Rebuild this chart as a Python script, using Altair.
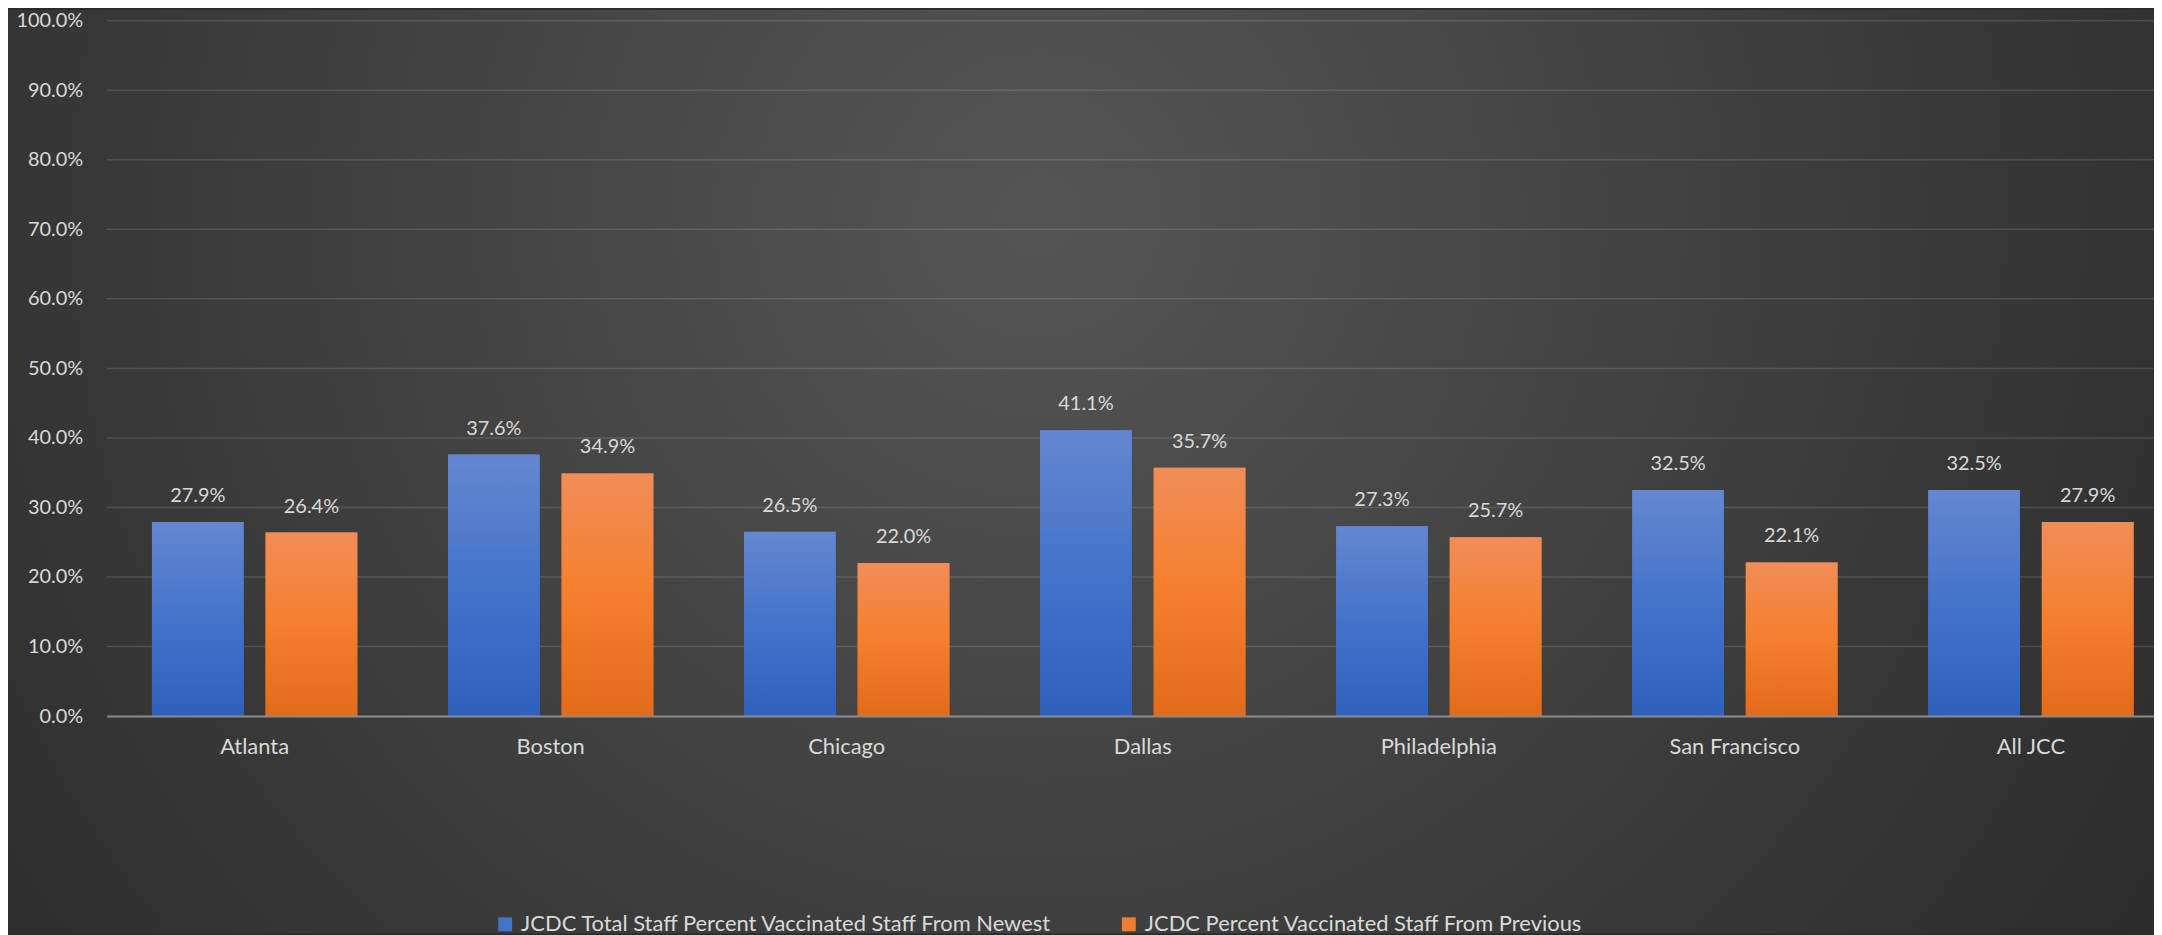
import altair as alt
import pandas as pd

cities = ["Atlanta", "Boston", "Chicago", "Dallas", "Philadelphia", "San Francisco", "All JCC"]
newest = [27.9, 37.6, 26.5, 41.1, 27.3, 32.5, 32.5]
previous = [26.4, 34.9, 22.0, 35.7, 25.7, 22.1, 27.9]
series = [
    "JCDC Total Staff Percent Vaccinated Staff From Newest",
    "JCDC Percent Vaccinated Staff From Previous",
]
y_ticks = [0, 10, 20, 30, 40, 50, 60, 70, 80, 90, 100]
bar_colors = ["#4472c4", "#ed7d31"]

rows = []
for c, a, b in zip(cities, newest, previous):
    rows.append({"city": c, "series": series[0], "value": a / 100})
    rows.append({"city": c, "series": series[1], "value": b / 100})
df = pd.DataFrame(rows)
grid_df = pd.DataFrame({"value": [t / 100 for t in y_ticks[1:]]})

FONT = "Lato"
TXT = "#d9d9d9"

x = alt.X(
    "city:N", sort=cities,
    scale=alt.Scale(paddingInner=0.3064, paddingOuter=0.1111, align=0.689),
    axis=alt.Axis(title=None, labelAngle=0, ticks=False, domain=True,
                  domainColor="#8c8c8c", domainWidth=2, labelPadding=21,
                  labelFontSize=22, labelColor=TXT, labelFont=FONT,
                  grid=False, zindex=1),
)
xo = alt.XOffset("series:N", sort=series,
                 scale=alt.Scale(paddingInner=0.193, paddingOuter=0))
y = alt.Y(
    "value:Q", stack=None, scale=alt.Scale(domain=[0, 1]),
    axis=alt.Axis(title=None, format=".1%", values=[t / 100 for t in y_ticks],
                  ticks=False, domain=False, grid=False, labelPadding=24,
                  labelFontSize=20, labelColor=TXT, labelFont=FONT, zindex=1),
)

bg_grad = {
    "gradient": "radial",
    "x1": 0.48, "y1": 0.38, "r1": 0,
    "x2": 0.48, "y2": 0.38, "r2": 0.72,
    "stops": [
        {"offset": 0, "color": "#555555"},
        {"offset": 0.5, "color": "#3d3d3d"},
        {"offset": 1, "color": "#252525"},
    ],
}
blue_grad = {
    "gradient": "linear", "x1": 0, "y1": 0, "x2": 0, "y2": 1,
    "stops": [
        {"offset": 0, "color": "#6487d0"},
        {"offset": 0.5, "color": "#4473cb"},
        {"offset": 1, "color": "#2e60bd"},
    ],
}
orange_grad = {
    "gradient": "linear", "x1": 0, "y1": 0, "x2": 0, "y2": 1,
    "stops": [
        {"offset": 0, "color": "#f18d58"},
        {"offset": 0.5, "color": "#f57f2d"},
        {"offset": 1, "color": "#e36a18"},
    ],
}

bg = alt.Chart(pd.DataFrame({"k": [0]})).mark_rect(fill=bg_grad).encode(
    x=alt.value(-99), x2=alt.value(2055), y=alt.value(-11), y2=alt.value(916)
)

grid = alt.Chart(grid_df).mark_rule(color="#ffffff", opacity=0.13, strokeWidth=1.5).encode(
    y=alt.Y("value:Q")
)

base_bars = alt.Chart(df).mark_bar().encode(
    x=x, xOffset=xo, y=y,
    color=alt.Color(
        "series:N", sort=series,
        scale=alt.Scale(domain=series, range=bar_colors),
        legend=alt.Legend(
            title=None, orient="none", legendX=389, legendY=896,
            direction="horizontal", symbolType="square", symbolSize=196,
            symbolStrokeWidth=0, labelOffset=5, columnPadding=65,
            labelFontSize=22, labelColor=TXT, labelFont=FONT, labelLimit=1000,
            padding=0,
        ),
    ),
)

bars_new = alt.Chart(df).transform_filter(alt.datum.series == series[0]).mark_bar(
    fill=blue_grad).encode(x=x, xOffset=xo, y=y)
bars_prev = alt.Chart(df).transform_filter(alt.datum.series == series[1]).mark_bar(
    fill=orange_grad).encode(x=x, xOffset=xo, y=y)

labels = alt.Chart(df).mark_text(
    baseline="middle", dy=-26, fontSize=20, color=TXT, font=FONT
).encode(x=x, xOffset=xo, y=y, text=alt.Text("value:Q", format=".1%"))

chart = alt.layer(bg, grid, base_bars, bars_new, bars_prev, labels).properties(
    width=2055, height=698,
    autosize=alt.AutoSizeParams(type="none"),
    padding={"left": 99, "top": 11, "right": 0, "bottom": 218},
    background="#2b2b2b",
).configure_view(stroke=None).configure(font=FONT)

chart.save("out.html", embed_options={"renderer": "svg", "actions": False})
